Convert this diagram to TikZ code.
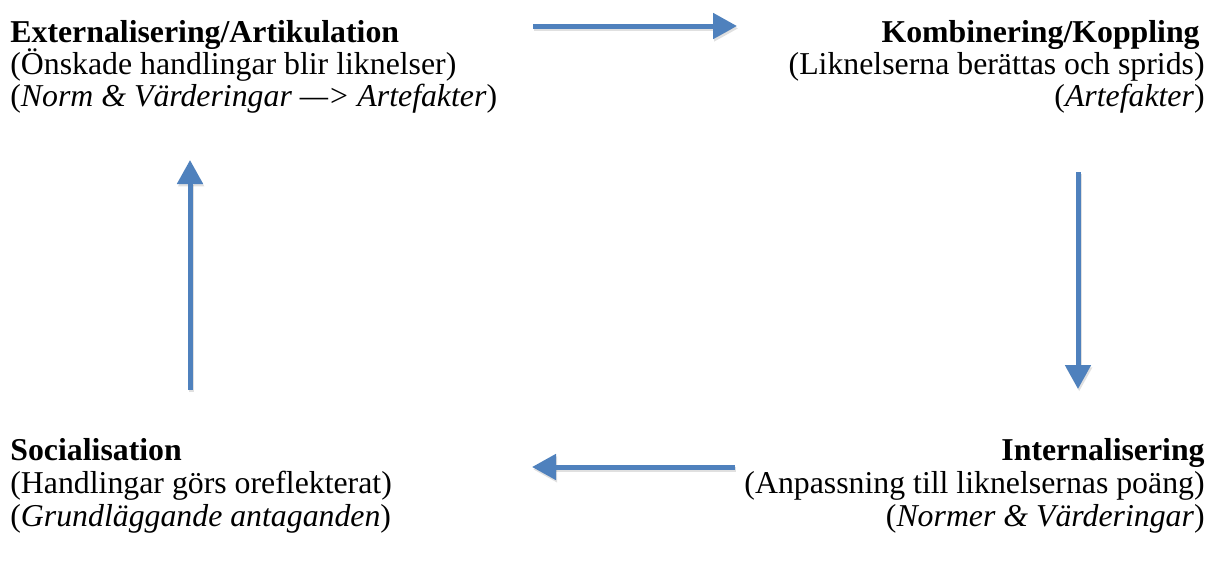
\documentclass[tikz,border=0pt]{standalone}
\usepackage{fontspec}
\setmainfont{Liberation Serif}
\usetikzlibrary{arrows.meta}
\definecolor{pilblue}{HTML}{4F81BD}
\tikzset{
  pil/.style={pilblue,line width=2.5pt,-{Triangle[width=12.5pt,length=12pt]}},
  pilskugga/.style={pil,black,opacity=0.12,transform canvas={yshift=-1.2pt,xshift=0.6pt}},
  txt/.style={inner sep=0pt,font=\fontsize{15.9}{18}\selectfont},
  vtxt/.style={txt,anchor=base west},
  htxt/.style={txt,anchor=base east}
}
\begin{document}
\begin{tikzpicture}[x=0.5pt,y=-0.5pt]
        \useasboundingbox (0,0) rectangle (1221,573);
        \node[vtxt] (ext1) at (10,42) {\textbf{Externalisering/Artikulation}};
        \node[vtxt] (ext2) at (10,74) {(Önskade handlingar blir liknelser)};
        \node[vtxt] (ext3) at (10,106) {(\textit{Norm \& Värderingar —> Artefakter})};
        \node[htxt] (kom1) at (1200,42) {\textbf{Kombinering/Koppling}};
        \node[htxt] (kom2) at (1205,74) {(Liknelserna berättas och sprids)};
        \node[htxt] (kom3) at (1205,106) {(\textit{Artefakter})};
        \node[htxt] (int1) at (1205,460) {\textbf{Internalisering}};
        \node[htxt] (int2) at (1205,493) {(Anpassning till liknelsernas poäng)};
        \node[htxt] (int3) at (1205,526) {(\textit{Normer \& Värderingar})};
        \node[vtxt] (soc1) at (10,460) {\textbf{Socialisation}};
        \node[vtxt] (soc2) at (10,493) {(Handlingar görs oreflekterat)};
        \node[vtxt] (soc3) at (10,526) {(\textit{Grundläggande antaganden})};
        \coordinate (a1) at (533,26);
        \coordinate (b1) at (737,26);
        \coordinate (a2) at (1078,172);
        \coordinate (b2) at (1078,389);
        \coordinate (a3) at (735,467);
        \coordinate (b3) at (532,467);
        \coordinate (a4) at (190,390);
        \coordinate (b4) at (190,160);
        \foreach \a/\b in {a1/b1,a2/b2,a3/b3,a4/b4}{
          \draw[pilskugga](\a)--(\b);
          \draw[pil](\a)--(\b);
        }
      \end{tikzpicture}
\end{document}
